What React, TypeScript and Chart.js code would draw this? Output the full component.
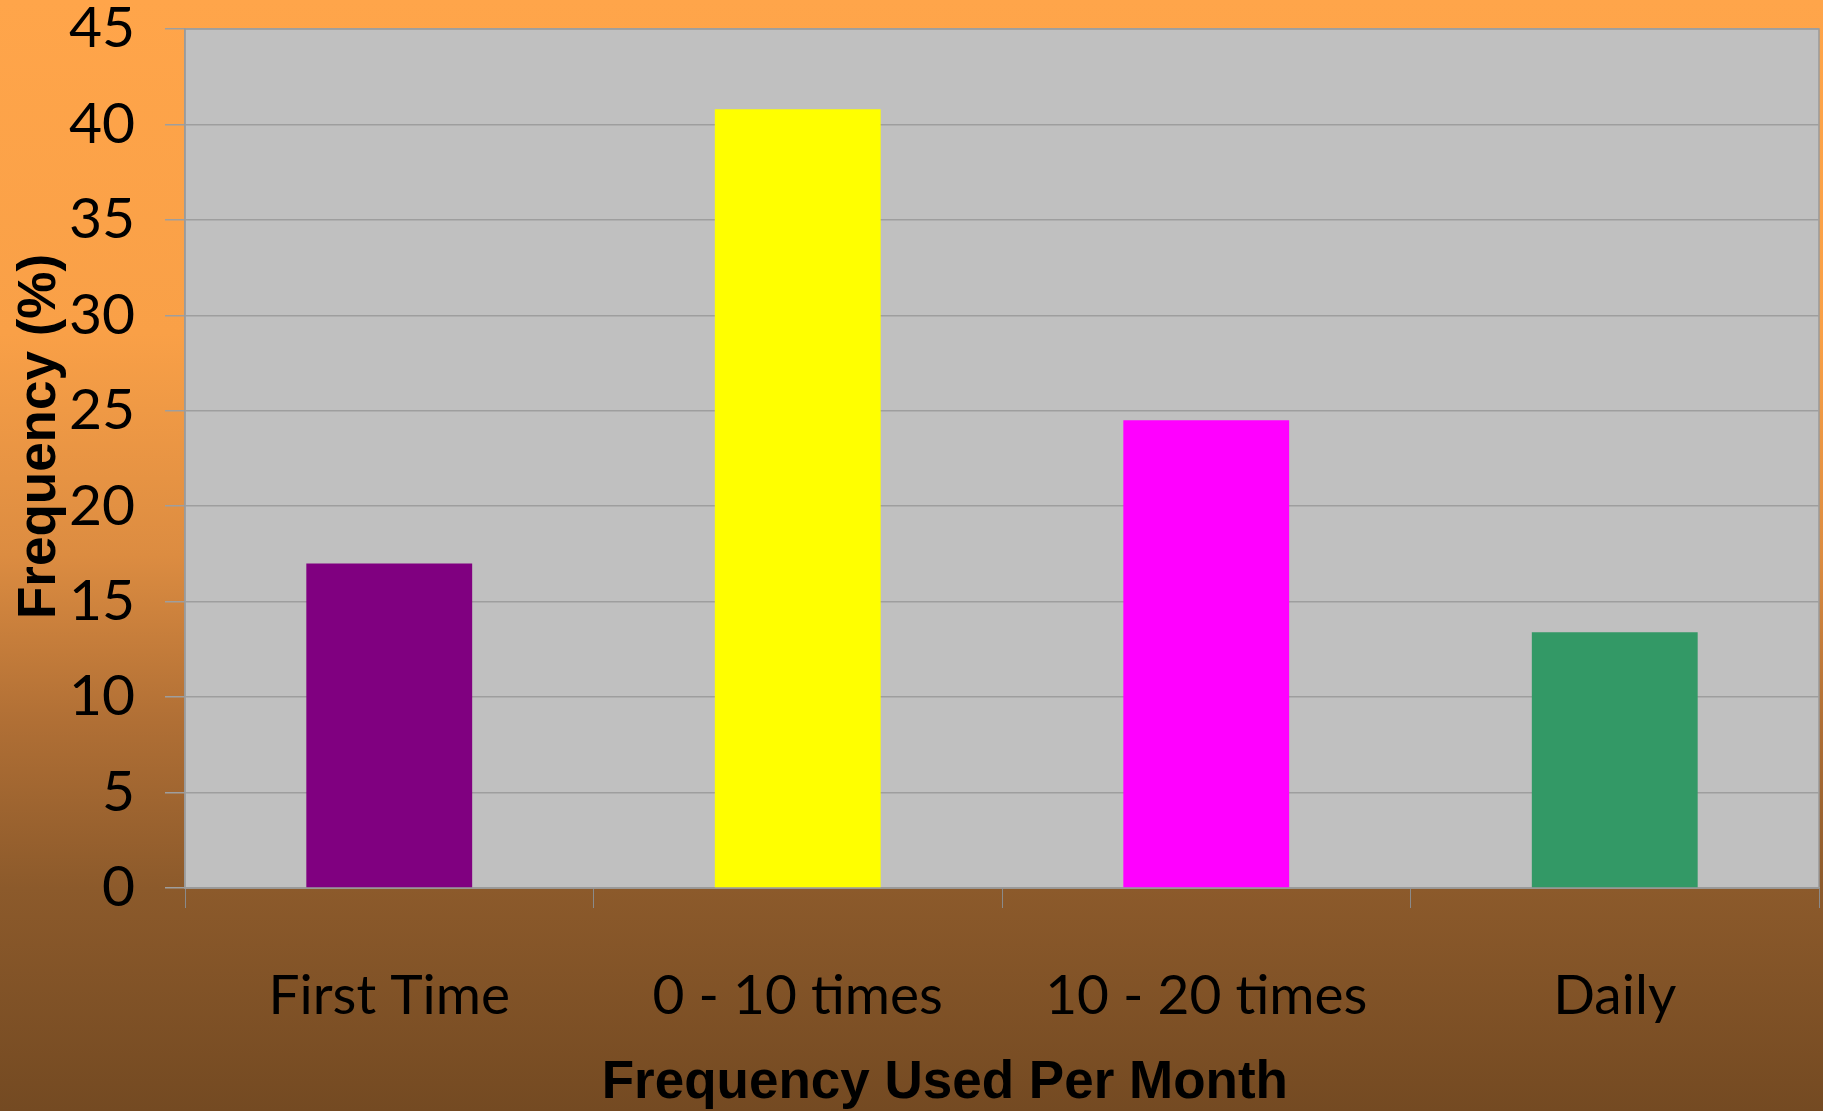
import React, { useEffect, useRef } from "react";
import { Chart, registerables } from "chart.js";

Chart.register(...registerables);

const categories = ["First Time", "0 - 10 times", "10 - 20 times", "Daily"];
const frequencyValues = [17, 40.8, 24.5, 13.4];
const barColors = ["#800080", "#FFFF00", "#FF00FF", "#339966"];
const yTicks = [0, 5, 10, 15, 20, 25, 30, 35, 40, 45];
const yTitle = "Frequency (%)";
const xTitle = "Frequency Used Per Month";

const W = 1823;
const H = 1111;

const bgPlugin = {
  id: "bgPlugin",
  beforeDraw(chart: any) {
    const { ctx, chartArea } = chart;
    ctx.save();
    const g = ctx.createLinearGradient(0, 0, 0, H);
    g.addColorStop(0, "#FFA54A");
    g.addColorStop(0.3, "#F9A047");
    g.addColorStop(0.5, "#DC8C41");
    g.addColorStop(0.65, "#B06F35");
    g.addColorStop(0.8, "#8C5A2B");
    g.addColorStop(1, "#744A22");
    ctx.fillStyle = g;
    ctx.fillRect(0, 0, W, H);
    ctx.fillStyle = "#C0C0C0";
    ctx.fillRect(chartArea.left, chartArea.top, chartArea.right - chartArea.left, chartArea.bottom - chartArea.top);
    ctx.strokeStyle = "#9A9A9A";
    ctx.lineWidth = 1.5;
    ctx.strokeRect(chartArea.left, chartArea.top, chartArea.right - chartArea.left, chartArea.bottom - chartArea.top);
    ctx.restore();
  },
  afterDraw(chart: any) {
    const { ctx, chartArea } = chart;
    ctx.save();
    ctx.fillStyle = "#000";
    ctx.font = "bold 53px 'Liberation Sans', Arial, sans-serif";
    ctx.textAlign = "center";
    ctx.textBaseline = "middle";
    const cx = chartArea.left + (chartArea.right - chartArea.left) * 0.465;
    ctx.fillText(xTitle, cx, 1083);
    ctx.translate(40, (chartArea.top + chartArea.bottom) / 2 - 22);
    ctx.rotate(-Math.PI / 2);
    ctx.fillText(yTitle, 0, 0);
    ctx.restore();
  },
};

export default function App() {
  const ref = useRef<HTMLCanvasElement | null>(null);
  useEffect(() => {
    document.body.style.margin = "0";
    const canvas = ref.current!;
    const chart = new Chart(canvas, {
      type: "bar",
      data: {
        labels: categories,
        datasets: [
          {
            data: frequencyValues,
            backgroundColor: barColors,
            borderWidth: 0,
            categoryPercentage: 1,
            barPercentage: 0.406,
          },
        ],
      },
      options: {
        responsive: false,
        animation: false,
        layout: { padding: { top: 29, right: 4, left: 0, bottom: 0 } },
        plugins: { legend: { display: false }, tooltip: { enabled: false }, title: { display: false } },
        scales: {
          x: {
            grid: {
              display: true,
              drawOnChartArea: false,
              drawTicks: true,
              tickLength: 20,
              color: "#8A8A8A",
              offset: true,
            },
            border: { display: true, color: "#9A9A9A", width: 1.5 },
            ticks: {
              color: "#000",
              padding: 55,
              font: { family: "Lato, 'Open Sans', sans-serif", size: 55 },
            },
            afterFit(scale: any) {
              scale.height = 223;
              scale.paddingLeft = 0;
              scale.paddingRight = 0;
            },
          },
          y: {
            min: 0,
            max: 45,
            afterBuildTicks(scale: any) {
              scale.ticks = yTicks.map((v) => ({ value: v }));
            },
            grid: {
              color: "#9E9E9E",
              lineWidth: 1.5,
              drawTicks: true,
              tickLength: 20,
            },
            border: { display: true, color: "#9A9A9A", width: 1.5 },
            ticks: {
              color: "#000",
              padding: 30,
              font: { family: "Lato, 'Open Sans', sans-serif", size: 57 },
            },
            afterFit(scale: any) {
              scale.width = 185;
              scale.paddingTop = 0;
              scale.paddingBottom = 0;
            },
          },
        },
      },
      plugins: [bgPlugin],
    });
    return () => chart.destroy();
  }, []);
  return <canvas ref={ref} width={W} height={H} style={{ display: "block" }} />;
}
